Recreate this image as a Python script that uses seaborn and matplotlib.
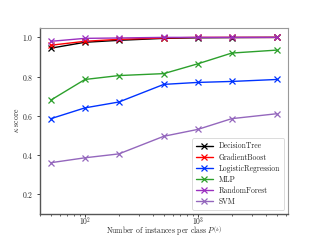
import matplotlib
matplotlib.use("Agg")
import matplotlib.pyplot as plt
import pandas as pd
import seaborn as sns

instances = [50, 100, 200, 500, 1000, 2000, 5000]
models = ["DecisionTree", "GradientBoost", "LogisticRegression", "MLP", "RandomForest", "SVM"]
decision_tree = [0.945, 0.975, 0.985, 0.995, 0.998, 0.999, 1.0]
gradient_boost = [0.96, 0.98, 0.99, 0.997, 1.0, 1.0, 1.0]
logistic_regression = [0.585, 0.64, 0.67, 0.76, 0.77, 0.775, 0.785]
mlp = [0.68, 0.785, 0.805, 0.815, 0.865, 0.92, 0.935]
random_forest = [0.98, 0.995, 0.997, 1.0, 1.0, 1.0, 1.0]
svm = [0.36, 0.385, 0.405, 0.495, 0.53, 0.585, 0.61]
colors = ["#000000", "#ff0000", "#0033ff", "#2ca02c", "#9b30c0", "#9467bd"]

scores = [decision_tree, gradient_boost, logistic_regression, mlp, random_forest, svm]
df = pd.DataFrame(
    [(n, m, s) for m, vals in zip(models, scores) for n, s in zip(instances, vals)],
    columns=["instances", "model", "kappa"],
)

sns.set_style("white")
plt.rcParams["font.family"] = ["cmr10", "DejaVu Serif"]
plt.rcParams["mathtext.fontset"] = "cm"
plt.rcParams["axes.formatter.use_mathtext"] = True

fig, ax = plt.subplots(figsize=(3.2, 2.4), dpi=100)
sns.lineplot(
    data=df, x="instances", y="kappa", hue="model", hue_order=models,
    palette=colors, marker="x", markersize=4, markeredgewidth=0.9,
    linewidth=1.0, legend=False, ax=ax,
)
# seaborn paints marker edges white; give the x markers their line colour
for line, name in zip(ax.lines, models):
    line.set_markeredgecolor(line.get_color())
    line.set_label(name)

ax.set_xscale("log")
ax.set_xlim(40, 6300)
ax.set_ylim(0.1, 1.05)
ax.set_yticks([0.2, 0.4, 0.6, 0.8, 1.0])
ax.set_xlabel(r"Number of instances per class $P^{(k)}$", fontsize=5.5, va="center")
ax.set_ylabel(r"$\kappa$ score", fontsize=5.5)
ax.xaxis.set_label_coords(0.5, -0.1)
ax.yaxis.set_label_coords(-0.075, 0.5)
ax.tick_params(axis="both", which="major", labelsize=5.5, length=2.5, width=0.6,
               bottom=True, left=True, pad=2)
ax.tick_params(axis="x", which="major", pad=-1.5)
ax.tick_params(axis="x", which="minor", length=1.5, width=0.5, bottom=True)
for side in ["top", "right"]:
    ax.spines[side].set_color("#999999")
    ax.spines[side].set_linewidth(0.8)
for side in ["left", "bottom"]:
    ax.spines[side].set_color("#555555")
    ax.spines[side].set_linewidth(1.0)

leg = ax.legend(handles=ax.lines[:len(models)], loc="lower right", fontsize=5.5,
                handlelength=2.2, frameon=True, fancybox=True, edgecolor="#cccccc",
                borderpad=0.5, labelspacing=0.35)
leg.get_frame().set_linewidth(0.6)

fig.subplots_adjust(left=0.125, right=0.9, bottom=0.11, top=0.885)
fig.savefig("out.png", dpi=100)
